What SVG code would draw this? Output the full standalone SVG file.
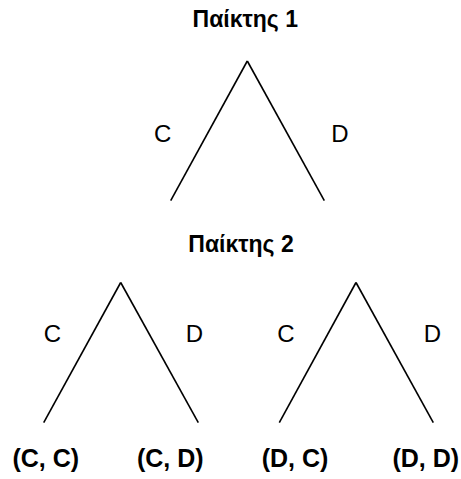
<svg xmlns="http://www.w3.org/2000/svg" width="461" height="479" viewBox="0 0 461 479">
<style>
text{font-family:"Liberation Sans",Arial,sans-serif;fill:#000;text-anchor:middle}
.t{font-size:23px;font-weight:bold}
.l{font-size:24px}
.o{font-size:25px;font-weight:bold}
line{stroke:#000;stroke-width:1.6;fill:none}
</style>
<rect width="461" height="479" fill="#fff"/>
<g id="connectors">
<line x1="247.3" y1="61" x2="170.7" y2="200.7"/>
<line x1="247.3" y1="61" x2="324.3" y2="200.7"/>
<line x1="120.7" y1="282.5" x2="43.7" y2="422.7"/>
<line x1="120.7" y1="282.5" x2="198.3" y2="422.7"/>
<line x1="356" y1="282.5" x2="279.3" y2="422.7"/>
<line x1="356" y1="282.5" x2="433.3" y2="422.7"/>
</g>
<g id="player1"><text class="t" x="245.3" y="26.7">Παίκτης 1</text></g>
<g id="player2"><text class="t" x="241" y="251.7">Παίκτης 2</text></g>
<g id="labels">
<text class="l" x="162.7" y="141.7">C</text>
<text class="l" x="340" y="141.7">D</text>
<text class="l" x="52.5" y="341.7">C</text>
<text class="l" x="194.5" y="341.7">D</text>
<text class="l" x="285.8" y="341.7">C</text>
<text class="l" x="432.5" y="341.7">D</text>
</g>
<g id="outcomes">
<text class="o" x="45.8" y="467">(C, C)</text>
<text class="o" x="170.3" y="467">(C, D)</text>
<text class="o" x="295" y="467">(D, C)</text>
<text class="o" x="425.8" y="467">(D, D)</text>
</g>
</svg>
